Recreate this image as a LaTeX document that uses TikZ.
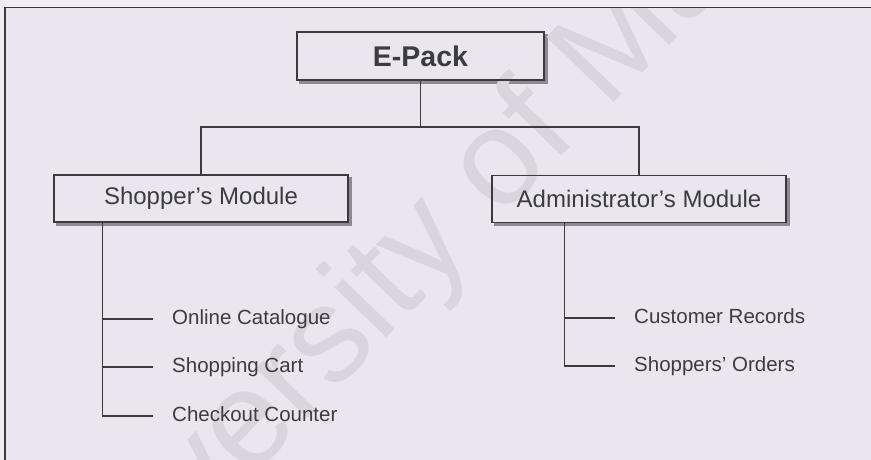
\documentclass[tikz,border=0pt]{standalone}
\usepackage{fontspec}
\setmainfont{Liberation Sans}
\usetikzlibrary{calc}
\pgfdeclarelayer{back}
\pgfdeclarelayer{mark}
\pgfsetlayers{back,mark,main}

\definecolor{pagec}{HTML}{EFEDF3}
\definecolor{panelc}{HTML}{E9E6EF}
\definecolor{inkc}{HTML}{3A3A3C}
\definecolor{txtc}{HTML}{3C3C40}
\definecolor{shadc}{HTML}{8C8A92}
\definecolor{wmc}{HTML}{D9D5DF}

\tikzset{
  modbox/.style={draw=inkc, line width=1.2pt, text=txtc, inner sep=0pt,
                 minimum width=294pt, minimum height=47pt,
                 font=\fontsize{24}{28}\selectfont},
  topbox/.style={modbox, minimum width=247pt, minimum height=48pt,
                 font=\fontsize{28.5}{32}\selectfont\bfseries},
  item/.style={anchor=west, inner sep=0pt, text=txtc,
               font=\fontsize{20.5}{24}\selectfont,
               text height=15.4pt, text depth=5.1pt},
  conn/.style={draw=inkc, line width=1.2pt},
  frameline/.style={draw=inkc, line width=1.6pt}
}

% fill and shadow behind a box node
\newcommand{\boxback}[1]{%
  \begin{pgfonlayer}{back}
    \fill[shadc] ([shift={(3pt,-3pt)}]#1.south west) rectangle ([shift={(3pt,-3pt)}]#1.north east);
    \fill[panelc] (#1.south west) rectangle (#1.north east);
  \end{pgfonlayer}}

\begin{document}
\begin{tikzpicture}[x=1pt,y=1pt]
\useasboundingbox (0,0) rectangle (871,-460);

% page and panel
\begin{pgfonlayer}{back}
  \fill[pagec] (0,0) rectangle (871,-460);
  \fill[panelc] (5,-7.5) rectangle (871,-460);
\end{pgfonlayer}
\draw[frameline] (871,-7.5) -- (5,-7.5) -- (5,-460);

% boxes
\node[topbox] (top) at (420.5,-56) {E-Pack};
\node[modbox] (shop) at (201,-198.5) {Shopper's Module};
\node[modbox] (admin) at (639,-199) {Administrator's Module};
\boxback{top}
\boxback{shop}
\boxback{admin}

% items
\node[item] (oc) at (172,-319) {Online Catalogue};
\node[item] (sc) at (172,-367) {Shopping Cart};
\node[item] (cc) at (172,-416) {Checkout Counter};
\node[item] (cr) at (634,-318) {Customer Records};
\node[item] (so) at (634,-366) {Shoppers' Orders};

% connectors
\coordinate (bus) at (420.5,-127);
\draw[conn] (top.south) -- (bus);
\draw[conn] (shop.north) |- (bus) -| (admin.north);

\coordinate (sroot) at ([xshift=49pt]shop.south west);
\draw[conn] (sroot) |- ([xshift=-19pt]cc.west);
\draw[conn] (sroot |- oc.west) -- ([xshift=-19pt]oc.west);
\draw[conn] (sroot |- sc.west) -- ([xshift=-19pt]sc.west);

\coordinate (aroot) at ([xshift=73pt]admin.south west);
\draw[conn] (aroot) |- ([xshift=-19pt]so.west);
\draw[conn] (aroot |- cr.west) -- ([xshift=-19pt]cr.west);

% watermark
\begin{pgfonlayer}{mark}
  \begin{scope}
    \clip (5,-7.5) rectangle (871,-460);
    \node[rotate=46, anchor=base west, inner sep=0pt, text=wmc,
          font=\fontsize{136}{136}\selectfont] (wmark) at (60,-676) {University of Malaya};
  \end{scope}
\end{pgfonlayer}
\end{tikzpicture}
\end{document}
